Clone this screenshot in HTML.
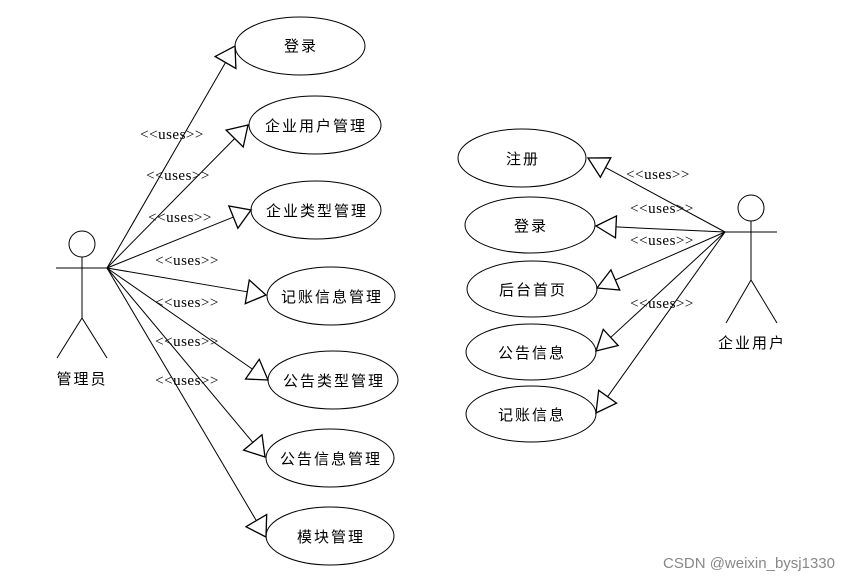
<!DOCTYPE html>
<html><head><meta charset="utf-8"><style>
html,body{margin:0;padding:0;background:#fff;}
svg{display:block;}
.t{font-family:"Liberation Sans","Noto Sans CJK SC",sans-serif;font-size:15px;fill:#000;letter-spacing:2px;}
.u{font-family:"Liberation Serif",serif;font-size:15px;fill:#000;letter-spacing:0.5px;}
</style></head><body>
<svg id="s" width="850" height="581" viewBox="0 0 850 581" xmlns="http://www.w3.org/2000/svg">
<g id="g" stroke="#000" stroke-width="1" fill="none">
<circle cx="82" cy="244" r="13"/>
<line x1="56" y1="268" x2="108" y2="268"/>
<line x1="82" y1="257" x2="82" y2="318"/>
<line x1="82" y1="318" x2="57" y2="358"/>
<line x1="82" y1="318" x2="107" y2="358"/>
<circle cx="751" cy="208" r="13"/>
<line x1="725" y1="232" x2="777" y2="232"/>
<line x1="751" y1="221" x2="751" y2="280"/>
<line x1="751" y1="280" x2="726" y2="323"/>
<line x1="751" y1="280" x2="777" y2="323"/>
</g>
<g class="t" text-anchor="middle">
<text x="82" y="384">管理员</text>
<text x="752" y="348">企业用户</text>
<text x="301" y="51">登录</text>
<text x="316" y="131">企业用户管理</text>
<text x="317" y="216">企业类型管理</text>
<text x="332" y="302">记账信息管理</text>
<text x="334" y="386">公告类型管理</text>
<text x="331" y="464">公告信息管理</text>
<text x="331" y="542">模块管理</text>
<text x="523" y="164">注册</text>
<text x="531" y="231">登录</text>
<text x="533" y="295">后台首页</text>
<text x="532" y="358">公告信息</text>
<text x="532" y="420">记账信息</text>
</g>
<g class="u" text-anchor="middle">
<text x="172" y="139">&lt;&lt;uses&gt;&gt;</text>
<text x="178" y="180">&lt;&lt;uses&gt;&gt;</text>
<text x="180" y="222">&lt;&lt;uses&gt;&gt;</text>
<text x="187" y="265">&lt;&lt;uses&gt;&gt;</text>
<text x="187" y="307">&lt;&lt;uses&gt;&gt;</text>
<text x="187" y="346">&lt;&lt;uses&gt;&gt;</text>
<text x="187" y="385">&lt;&lt;uses&gt;&gt;</text>
<text x="658" y="179">&lt;&lt;uses&gt;&gt;</text>
<text x="662" y="213">&lt;&lt;uses&gt;&gt;</text>
<text x="662" y="245">&lt;&lt;uses&gt;&gt;</text>
<text x="662" y="308">&lt;&lt;uses&gt;&gt;</text>
</g>
<text x="835" y="568" text-anchor="end" style="font-family:'Liberation Sans',sans-serif;font-size:15px;fill:#888;">CSDN @weixin_bysj1330</text>
</svg>
<script>
var g=document.getElementById('g');
function el(n,a){var e=document.createElementNS('http://www.w3.org/2000/svg',n);for(var k in a)e.setAttribute(k,a[k]);g.appendChild(e);}
var L=[[300,46,65,29,235,46],[315,125,66,29,248,125],[316,210,65,29,251,210],[331,296,64,29,266,295],[333,380,65,29,268,380],[330,458,64,29,265,457],[330,536,64,29,266,537]];
var R=[[522,158,64,29,588,158],[530,225,65,28,596,226],[532,289,65,28,597,288],[531,352,65,28,596,351],[531,414,65,28,596,413]];
function draw(hx,hy,E,len,hw){E.forEach(function(e){var cx=e[0],cy=e[1],rx=e[2],ry=e[3],tx=e[4],ty=e[5];
el('ellipse',{cx:cx,cy:cy,rx:rx,ry:ry});
var dx=tx-hx,dy=ty-hy,l=Math.hypot(dx,dy),ux=dx/l,uy=dy/l;
var bx=tx-ux*len,by=ty-uy*len;var px=-uy*hw,py=ux*hw;
el('line',{x1:hx,y1:hy,x2:bx,y2:by});
el('polygon',{points:tx+','+ty+' '+(bx+px)+','+(by+py)+' '+(bx-px)+','+(by-py),fill:'#fff','stroke-width':1.3});});}
draw(107,268,L,19,12);draw(725,232,R,20,11);
</script>
</body></html>
